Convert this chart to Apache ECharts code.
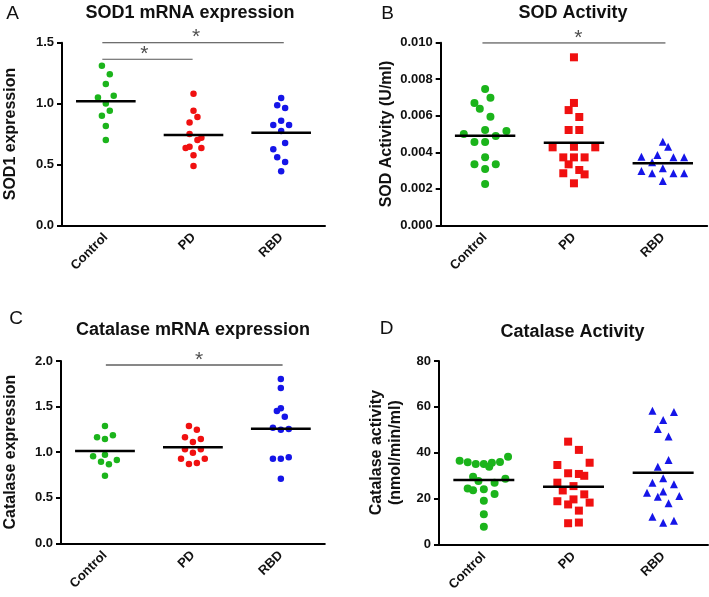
<!DOCTYPE html>
<html>
<head>
<meta charset="utf-8">
<script src="https://cdn.jsdelivr.net/npm/echarts@6/dist/echarts.min.js"></script>
<style>html,body{margin:0;padding:0;background:#fff}#c{width:709px;height:597px}</style>
</head>
<body>
<div id="c"></div>
<script>
// ---------- data ----------
const categories = ['Control', 'PD', 'RBD'];

// Panel A: SOD1 mRNA expression
const sod1Control = [1.31, 1.24, 1.16, 1.05, 1.065, 1.00, 0.94, 0.90, 0.815, 0.70];
const sod1ControlJitter = [-0.045, 0.045, 0, -0.09, 0.09, 0, 0.045, -0.045, 0, 0];
const sod1PD = [1.08, 0.94, 0.89, 0.845, 0.75, 0.72, 0.70, 0.645, 0.635, 0.635, 0.575, 0.487];
const sod1PDJitter = [0, 0, 0.045, -0.045, -0.045, 0.09, 0.045, -0.045, -0.09, 0.09, 0, 0];
const sod1RBD = [1.046, 0.986, 0.964, 0.859, 0.824, 0.824, 0.775, 0.676, 0.624, 0.559, 0.520, 0.444];
const sod1RBDJitter = [0, -0.045, 0.045, 0, -0.09, 0.09, 0, 0.045, -0.09, -0.045, 0.045, 0];
const sod1Means = [1.02, 0.742, 0.76];
const sod1Ticks = [0, 1.5, 0.5];

// Panel B: SOD activity
const sodControl = [0.00746, 0.00670, 0.00699, 0.00638, 0.00595, 0.00500, 0.00522, 0.00516, 0.00489, 0.00456, 0.00456, 0.00372, 0.00334, 0.00334, 0.00308, 0.00226];
const sodControlJitter = [0, -0.12, 0.06, -0.06, 0.06, -0.24, 0, 0.24, 0.12, -0.12, 0, 0, -0.12, 0.12, 0, 0];
const sodPD = [0.00920, 0.00670, 0.00631, 0.00593, 0.00522, 0.00522, 0.00427, 0.00430, 0.00427, 0.00372, 0.00372, 0.00372, 0.00334, 0.00303, 0.00285, 0.00279, 0.00230];
const sodPDJitter = [0, 0, -0.06, 0.06, -0.06, 0.06, -0.24, 0, 0.24, -0.12, 0, 0.12, -0.06, 0.06, -0.12, 0.12, 0];
const sodRBD = [0.00458, 0.00430, 0.00376, 0.00385, 0.00345, 0.00372, 0.00372, 0.00297, 0.00285, 0.00312, 0.00285, 0.00285, 0.00243];
const sodRBDJitter = [0, 0.06, -0.24, -0.06, -0.12, 0.12, 0.24, -0.24, -0.12, 0, 0.12, 0.24, 0];
const sodMeans = [0.00491, 0.00452, 0.00340];
const sodTicks = [0, 0.010, 0.002];

// Panel C: Catalase mRNA expression
const catControl = [1.287, 1.163, 1.144, 1.185, 0.954, 0.972, 0.895, 0.867, 0.914, 0.742];
const catControlJitter = [0, -0.09, 0, 0.09, -0.135, 0, -0.045, 0.045, 0.135, 0];
const catPD = [1.287, 1.246, 1.163, 1.144, 1.111, 1.031, 0.994, 1.031, 0.928, 0.928, 0.870, 0.881];
const catPDJitter = [-0.045, 0.045, -0.09, 0.09, 0, -0.09, 0, 0.09, -0.135, 0.135, -0.045, 0.045];
const catRBD = [1.803, 1.704, 1.451, 1.481, 1.389, 1.268, 1.246, 1.254, 0.928, 0.928, 0.944, 0.709];
const catRBDJitter = [0, 0, -0.045, 0, 0.045, -0.09, 0, 0.09, -0.09, 0, 0.09, 0];
const catMeans = [1.013, 1.053, 1.257];
const catTicks = [0, 2.0, 0.5];

// Panel D: Catalase activity
const caControl = [36.5, 35.8, 35.0, 35.0, 33.9, 35.6, 35.9, 38.2, 29.5, 27.6, 28.6, 26.9, 24.4, 23.6, 24.0, 22.0, 19.0, 13.1, 7.7];
const caControlJitter = [-0.27, -0.18, -0.09, 0, 0.06, 0.09, 0.18, 0.27, -0.12, -0.06, 0.24, 0.12, -0.18, -0.12, 0, 0.12, 0, 0, 0];
const caPD = [44.8, 41.2, 35.6, 34.6, 31.0, 30.7, 29.9, 26.9, 25.4, 23.5, 21.8, 18.8, 19.6, 18.2, 17.4, 14.7, 9.2, 9.5];
const caPDJitter = [-0.06, 0.06, 0.18, -0.18, -0.06, 0.06, 0.12, -0.18, 0, -0.12, 0.12, -0.18, 0, 0.18, -0.06, 0.06, -0.06, 0.06];
const caRBD = [58.3, 57.7, 54.2, 50.3, 47.0, 36.8, 33.9, 28.8, 26.9, 26.2, 22.5, 23.0, 20.8, 21.1, 17.9, 12.0, 9.4, 10.3];
const caRBDJitter = [-0.12, 0.12, 0, -0.06, 0.06, 0.06, -0.06, 0, -0.12, 0.12, -0.18, 0, -0.06, 0.18, 0.06, -0.12, 0, 0.12];
const caMeans = [28.1, 25.1, 31.2];
const caTicks = [0, 80, 20];

// significance bars: [xStart, xEnd, y, starX]
const sod1Sig = [[-0.04, 2.03, 1.5, 1.03], [-0.04, 0.99, 1.364, 0.44]];
const sodSig = [[-0.03, 2.03, 0.00999, 1.05]];
const catSig = [[0.01, 2.02, 1.956, 1.07]];
const caSig = [];

// ---------- styling / layout ----------
const FONT = 'Liberation Sans, Arial, Helvetica, sans-serif';
const COLORS = ['#1bb41b', '#f01010', '#1515e8'];
const grids = [
  {left: 57, top: 42.7, width: 268, height: 182.6},
  {left: 440.7, top: 42.7, width: 266.5, height: 182.6},
  {left: 58.3, top: 361, width: 266.5, height: 182.3},
  {left: 439, top: 361, width: 269, height: 183.3}
];

const panels = [
  {groups: [[sod1Control, sod1ControlJitter], [sod1PD, sod1PDJitter], [sod1RBD, sod1RBDJitter]], means: sod1Means, ticks: sod1Ticks, sig: sod1Sig,
   shapes: ['circle', 'circle', 'circle'], size: 6.5, decimals: 1, name: 'SOD1 expression', nameGap: 42},
  {groups: [[sodControl, sodControlJitter], [sodPD, sodPDJitter], [sodRBD, sodRBDJitter]], means: sodMeans, ticks: sodTicks, sig: sodSig,
   shapes: ['circle', 'rect', 'triangle'], size: 8, decimals: 3, name: 'SOD Activity (U/ml)', nameGap: 45},
  {groups: [[catControl, catControlJitter], [catPD, catPDJitter], [catRBD, catRBDJitter]], means: catMeans, ticks: catTicks, sig: catSig,
   shapes: ['circle', 'circle', 'circle'], size: 6.5, decimals: 1, name: 'Catalase expression', nameGap: 41},
  {groups: [[caControl, caControlJitter], [caPD, caPDJitter], [caRBD, caRBDJitter]], means: caMeans, ticks: caTicks, sig: caSig,
   shapes: ['circle', 'rect', 'triangle'], size: 8, decimals: 0, name: 'Catalase activity\n(nmol/min/ml)', nameGap: 34}
];

const titles = [
  {text: 'SOD1 mRNA expression', x: 190, y: 13.5},
  {text: 'SOD Activity', x: 573, y: 13.5},
  {text: 'Catalase mRNA expression', x: 193, y: 330},
  {text: 'Catalase Activity', x: 572.5, y: 332}
];
const letters = [
  {text: 'A', x: 12.5, y: 13.5},
  {text: 'B', x: 387.5, y: 13.5},
  {text: 'C', x: 16, y: 319},
  {text: 'D', x: 386.5, y: 329}
];

const option = {
  animation: false,
  backgroundColor: '#fff',
  textStyle: {fontFamily: FONT},
  grid: [], xAxis: [], yAxis: [], series: [], graphic: []
};

panels.forEach((p, gi) => {
  option.grid.push(Object.assign({containLabel: false}, grids[gi]));
  option.xAxis.push({
    type: 'category', gridIndex: gi, data: categories, boundaryGap: true,
    axisLine: {onZero: false, lineStyle: {color: '#000', width: 2}},
    axisTick: {alignWithLabel: true, length: 5, lineStyle: {color: '#000', width: 2}},
    axisLabel: {rotate: 45, margin: 10, color: '#111', fontSize: 13, fontWeight: 'bold', fontFamily: FONT},
    splitLine: {show: false}
  });
  option.xAxis.push({
    type: 'value', gridIndex: gi, min: -0.5, max: 2.5, show: false,
    axisLine: {onZero: false}, splitLine: {show: false}
  });
  option.yAxis.push({
    type: 'value', gridIndex: gi, min: p.ticks[0], max: p.ticks[1], interval: p.ticks[2],
    name: p.name, nameLocation: 'middle', nameGap: p.nameGap,
    nameTextStyle: {fontSize: 16, fontWeight: 'bold', color: '#111', fontFamily: FONT, lineHeight: 19, align: 'center'},
    axisLine: {show: true, onZero: false, lineStyle: {color: '#000', width: 2}},
    axisTick: {show: true, length: 5, lineStyle: {color: '#000', width: 2}},
    axisLabel: {margin: 8, color: '#111', fontSize: 13, fontWeight: 'bold', fontFamily: FONT,
      formatter: v => v.toFixed(p.decimals)},
    splitLine: {show: false}
  });
  const xv = gi * 2 + 1;
  p.groups.forEach((g, ci) => {
    const vals = g[0], jit = g[1];
    option.series.push({
      type: 'scatter', xAxisIndex: xv, yAxisIndex: gi,
      symbol: p.shapes[ci], symbolSize: p.size,
      itemStyle: {color: COLORS[ci], opacity: 1},
      data: vals.map((v, k) => [ci + jit[k], v]), z: 2
    });
    option.series.push({
      type: 'line', xAxisIndex: xv, yAxisIndex: gi, symbol: 'none',
      lineStyle: {color: '#000', width: 2.5},
      data: [[ci - 0.34, p.means[ci]], [ci + 0.34, p.means[ci]]], z: 4
    });
  });
  p.sig.forEach((s, si) => {
    const col = (gi === 0 && si === 1) ? '#555' : '#111';
    option.series.push({
      type: 'line', xAxisIndex: xv, yAxisIndex: gi, symbol: 'none',
      lineStyle: {color: col, width: 1},
      data: [[s[0], s[2]], [s[1], s[2]]], z: 3
    });
    option.series.push({
      type: 'scatter', xAxisIndex: xv, yAxisIndex: gi, symbolSize: 2,
      itemStyle: {color: 'rgba(0,0,0,0)'},
      label: {show: true, position: 'inside', offset: [0, -5], formatter: '*', color: '#222', fontSize: 21, fontFamily: FONT},
      data: [[s[3], s[2]]], z: 5
    });
  });
});

titles.forEach(t => option.graphic.push({
  type: 'text', x: t.x, y: t.y,
  style: {text: t.text, font: 'bold 18px ' + FONT, fill: '#111', textAlign: 'center', textVerticalAlign: 'middle'}
}));
letters.forEach(t => option.graphic.push({
  type: 'text', x: t.x, y: t.y,
  style: {text: t.text, font: '19px ' + FONT, fill: '#111', textAlign: 'center', textVerticalAlign: 'middle'}
}));

const chart = echarts.init(document.getElementById('c'), null, {renderer: 'canvas'});
chart.setOption(option);
</script>
</body>
</html>
